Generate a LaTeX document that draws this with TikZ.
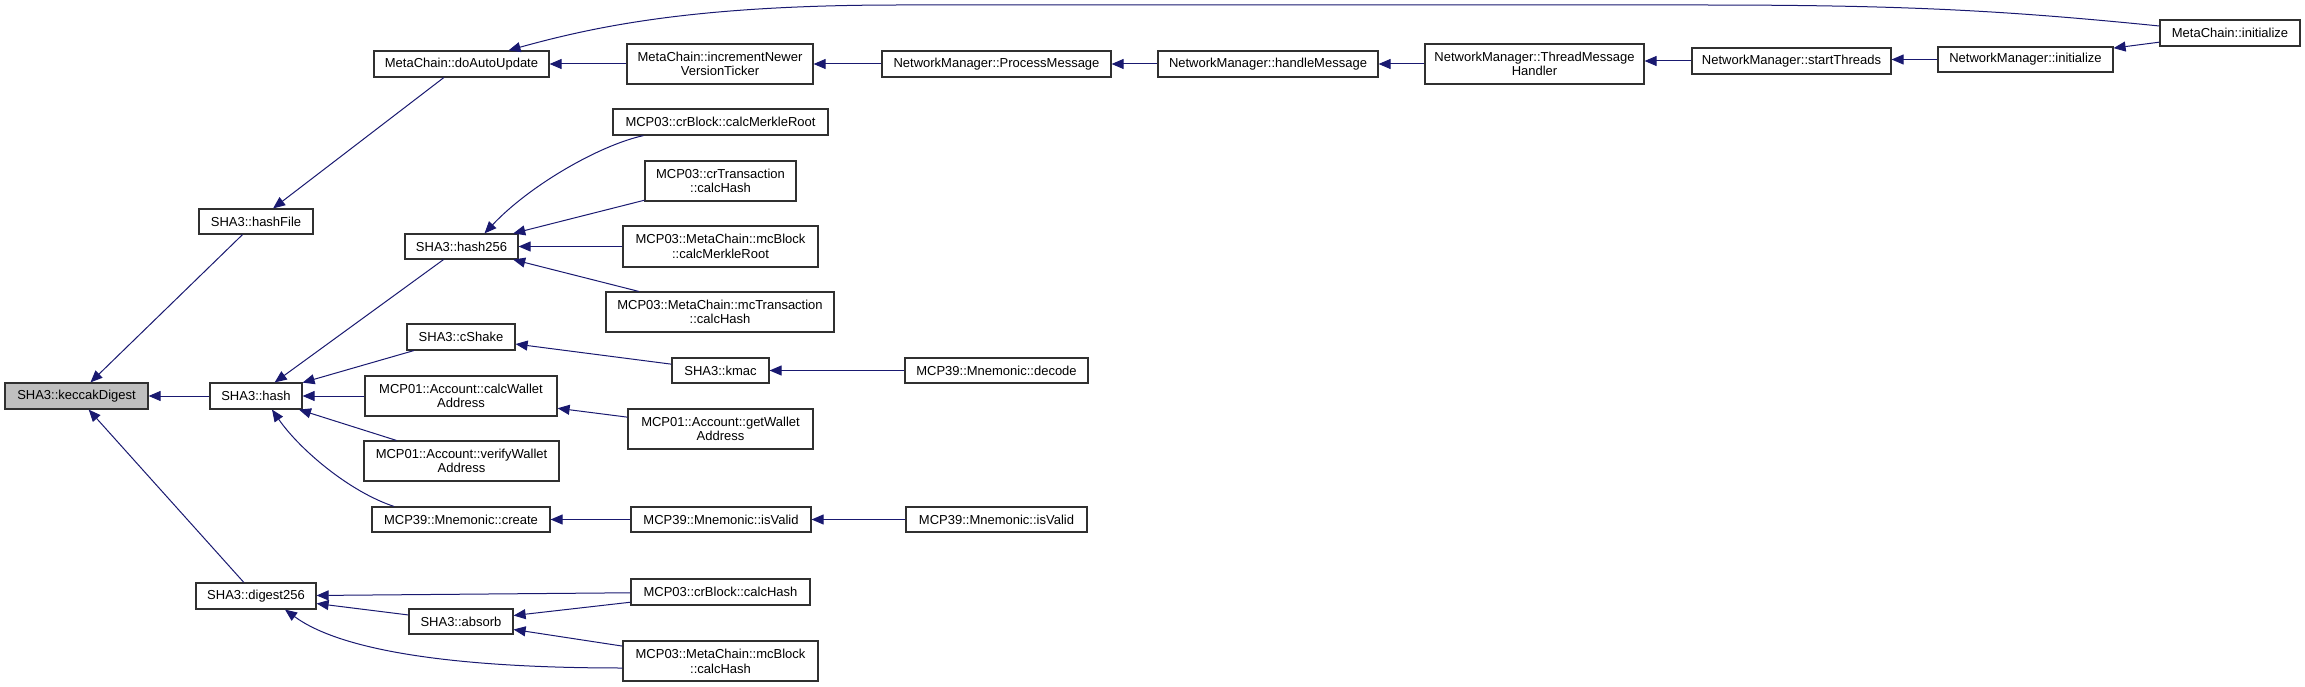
\documentclass[tikz,border=0pt]{standalone}
\usepackage{fontspec}
\setmainfont{Liberation Sans}
\usetikzlibrary{arrows.meta}
\definecolor{edgeblue}{RGB}{25,25,112}
\definecolor{boxline}{RGB}{48,48,48}
\definecolor{hilite}{RGB}{191,191,191}
\tikzset{
  box/.style={draw=boxline, line width=1.2pt, fill=white, rectangle, inner sep=0pt,
    align=center, font=\fontsize{13}{14.7}\selectfont},
  edge/.style={draw=edgeblue, line width=1pt, -{Triangle[length=12pt,width=10pt]}},
}
\newcommand{\bx}[6]{\node[box, minimum width=#3pt, minimum height=#4pt, #6] (#1) at #2 {#5};}
\begin{document}
\begin{tikzpicture}[x=1pt,y=-1pt]
\useasboundingbox (0,0) rectangle (2305,687);
% rank 0
\bx{keccak}{(76.5,396)}{143}{26}{SHA3::keccakDigest}{fill=hilite}
% rank 1
\bx{hashfile}{(256,221.5)}{114}{25}{SHA3::hashFile}{}
\bx{hash}{(256,396)}{92}{26}{SHA3::hash}{}
\bx{digest}{(256,596)}{120}{26}{SHA3::digest256}{}
% rank 2
\bx{doauto}{(461.5,64)}{175}{26}{MetaChain::doAutoUpdate}{}
\bx{hashtwo}{(461.5,246.5)}{113}{25}{SHA3::hash256}{}
\bx{cshake}{(461,337)}{108}{26}{SHA3::cShake}{}
\bx{calcw}{(461,396)}{192}{40}{MCP01::Account::calcWallet\\Address}{}
\bx{verifyw}{(461.5,461)}{195}{40}{MCP01::Account::verifyWallet\\Address}{}
\bx{create}{(461,519.5)}{178}{25}{MCP39::Mnemonic::create}{}
\bx{absorb}{(461,621.5)}{104}{25}{SHA3::absorb}{}
% rank 3
\bx{incr}{(720,64)}{186}{40}{MetaChain::incrementNewer\\VersionTicker}{}
\bx{crbm}{(720.5,122)}{215}{26}{MCP03::crBlock::calcMerkleRoot}{}
\bx{crtx}{(720.5,181)}{151}{40}{MCP03::crTransaction\\::calcHash}{}
\bx{mcbm}{(720.5,246.5)}{195}{41}{MCP03::MetaChain::mcBlock\\::calcMerkleRoot}{}
\bx{mctx}{(720,312)}{228}{40}{MCP03::MetaChain::mcTransaction\\::calcHash}{}
\bx{kmac}{(720.5,370.5)}{97}{25}{SHA3::kmac}{}
\bx{getw}{(720.5,429)}{185}{40}{MCP01::Account::getWallet\\Address}{}
\bx{isvalida}{(721,519.5)}{180}{25}{MCP39::Mnemonic::isValid}{}
\bx{crbh}{(720.5,592)}{179}{26}{MCP03::crBlock::calcHash}{}
\bx{mcbh}{(720.5,661)}{195}{40}{MCP03::MetaChain::mcBlock\\::calcHash}{}
% rank 4
\bx{procmsg}{(996.5,64)}{229}{26}{NetworkManager::ProcessMessage}{}
\bx{decode}{(996.5,370.5)}{183}{25}{MCP39::Mnemonic::decode}{}
\bx{isvalidb}{(996.5,519.5)}{181}{25}{MCP39::Mnemonic::isValid}{}
% rank 5+
\bx{handle}{(1268,64)}{220}{26}{NetworkManager::handleMessage}{}
\bx{thread}{(1534.5,64)}{219}{40}{NetworkManager::ThreadMessage\\Handler}{}
\bx{start}{(1791.5,61)}{199}{26}{NetworkManager::startThreads}{}
\bx{nminit}{(2025.5,59.5)}{175}{25}{NetworkManager::initialize}{}
\bx{mcinit}{(2230,33)}{140}{26}{MetaChain::initialize}{}

% edges (caller -> callee, arrow at callee)
\draw[edge] (hashfile) -- (keccak);
\draw[edge] (hash) -- (keccak);
\draw[edge] (digest) -- (keccak);
\draw[edge] (doauto) -- (hashfile);
\draw[edge] (incr) -- (doauto);
\draw[edge] ([yshift=7pt]mcinit.west) .. controls (2000,10) and (1900,5) .. (1700,5)
   -- (900,5) .. controls (700,5) and (600,25) .. ([xshift=47pt]doauto.north);
\draw[edge] (procmsg) -- (incr);
\draw[edge] (handle) -- (procmsg);
\draw[edge] (thread) -- (handle);
\draw[edge] (start.west) -- (start.west -| thread.east);
\draw[edge] (nminit.west) -- (nminit.west -| start.east);
\draw[edge] (mcinit) -- (nminit);
\draw[edge] (hashtwo) -- (hash);
\draw[edge] (cshake) -- (hash);
\draw[edge] (calcw) -- (hash);
\draw[edge] (verifyw) -- (hash);
\draw[edge] ([xshift=-67pt]create.north) .. controls (350,492) and (300,450) .. ([xshift=16pt]hash.south);
\draw[edge] ([xshift=-77pt]crbm.south) .. controls (600,145) and (530,185) .. ([xshift=23pt]hashtwo.north);
\draw[edge] (crtx) -- (hashtwo);
\draw[edge] (mcbm) -- (hashtwo);
\draw[edge] (mctx) -- (hashtwo);
\draw[edge] (kmac) -- (cshake);
\draw[edge] (decode) -- (kmac);
\draw[edge] (getw) -- (calcw);
\draw[edge] (isvalida) -- (create);
\draw[edge] (isvalidb) -- (isvalida);
\draw[edge] (crbh) -- (digest);
\draw[edge] (absorb) -- (digest);
\draw[edge] ([yshift=-7pt]mcbh.west) .. controls (450,668) and (340,650) .. ([xshift=29pt]digest.south);
\draw[edge] (crbh) -- (absorb);
\draw[edge] (mcbh) -- (absorb);
\end{tikzpicture}
\end{document}
